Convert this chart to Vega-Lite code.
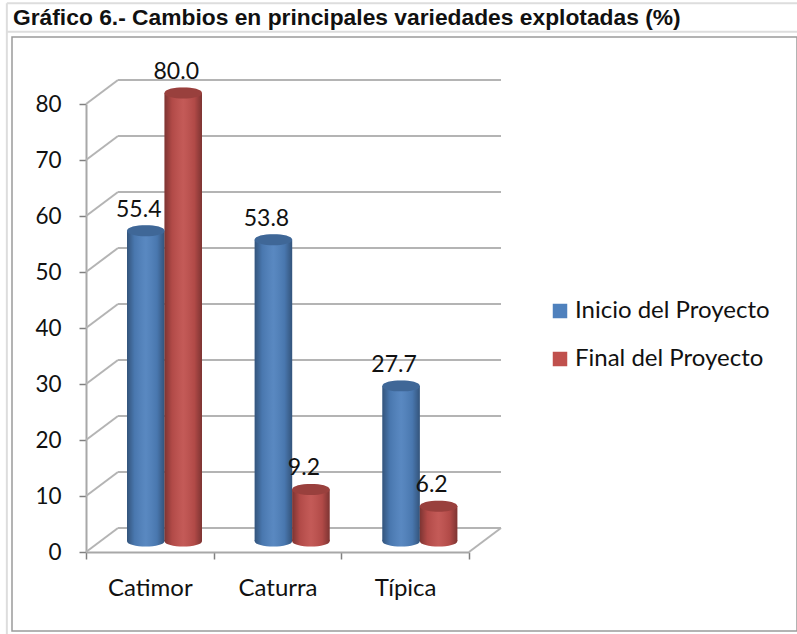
{
"$schema":"https://vega.github.io/schema/vega-lite/v6.json",
"width":785,"height":594,
"autosize":"none",
"padding":{"left":12,"top":37,"right":0,"bottom":3},
"background":"white",
"title":{"text":"Gráfico 6.- Cambios en principales variedades explotadas (%)","anchor":"start","frame":"group","font":"Liberation Sans","fontSize":22.8,"fontWeight":"bold","color":"#111111","offset":-28,"dx":1},
"config":{"view":{"stroke":"#9a9a9a","strokeWidth":1.5},"font":"Lato"},
"datasets":{
"series":[
{"variedad":"Catimor","serie":"Inicio del Proyecto","pct":55.4},
{"variedad":"Catimor","serie":"Final del Proyecto","pct":80.0},
{"variedad":"Caturra","serie":"Inicio del Proyecto","pct":53.8},
{"variedad":"Caturra","serie":"Final del Proyecto","pct":9.2},
{"variedad":"Típica","serie":"Inicio del Proyecto","pct":27.7},
{"variedad":"Típica","serie":"Final del Proyecto","pct":6.2}
],
"grid":[{"v":0},{"v":10},{"v":20},{"v":30},{"v":40},{"v":50},{"v":60},{"v":70},{"v":80}]
},
"resolve":{"scale":{"x":"independent"}},
"layer":[
{"data":{"name":"grid"},"mark":{"type":"rule","color":"#b4b4b4","strokeWidth":2,"xOffset":32,"x2Offset":32,"yOffset":-24},
 "encoding":{"x":{"datum":0,"type":"quantitative","scale":{"domain":[0,3],"range":[74,457]},"axis":null},"x2":{"datum":3},"y":{"field":"v","type":"quantitative","scale":{"domain":[0,80],"range":[515,67],"nice":false,"zero":false},"axis":{"title":null,"values":[0,10,20,30,40,50,60,70,80],"offset":-74,"grid":false,"domainColor":"#a8a8a8","domainWidth":2,"tickColor":"#808080","tickWidth":1.5,"tickSize":7,"labelPadding":18,"labelFont":"Lato","labelFontSize":22.5,"labelColor":"#111111"}}}},
{"data":{"name":"grid"},"mark":{"type":"rule","color":"#b4b4b4","strokeWidth":2,"x2Offset":32,"y2Offset":-24},
 "encoding":{"x":{"datum":0,"type":"quantitative","scale":{"domain":[0,3],"range":[74,457]},"axis":null},"x2":{"datum":0},"y":{"field":"v","type":"quantitative"},"y2":{"field":"v"}}},
{"data":{"values":[{"v":0}]},"mark":{"type":"rule","color":"#b4b4b4","strokeWidth":2,"x2Offset":32,"y2Offset":-24},
 "encoding":{"x":{"datum":3,"type":"quantitative","scale":{"domain":[0,3],"range":[74,457]},"axis":null},"x2":{"datum":3},"y":{"field":"v","type":"quantitative"},"y2":{"field":"v"}}},
{"data":{"values":[{"v":98.0},{"v":92.9}]},"mark":{"type":"rule","color":"#dddddd","strokeWidth":2},
 "encoding":{"x":{"datum":-0.62,"type":"quantitative","scale":{"domain":[0,3],"range":[74,457]},"axis":null},"x2":{"datum":5.57},"y":{"field":"v","type":"quantitative"}}},
{"data":{"values":[{"u":-0.62}]},"mark":{"type":"rule","color":"#dddddd","strokeWidth":2},
 "encoding":{"x":{"field":"u","type":"quantitative","scale":{"domain":[0,3],"range":[74,457]},"axis":null},"y":{"datum":98.0,"type":"quantitative"},"y2":{"datum":-14.8}}},
{"data":{"name":"series"},
 "encoding":{
  "x":{"field":"variedad","type":"nominal","sort":["Catimor","Caturra","Típica"],"scale":{"domain":["Catimor","Caturra","Típica"],"range":[74,457],"paddingInner":0,"paddingOuter":0},"axis":{"title":null,"orient":"bottom","offset":-79,"labelAngle":0,"domainColor":"#a8a8a8","domainWidth":2,"tickColor":"#808080","tickWidth":1.5,"tickSize":7,"tickBand":"extent","labelPadding":17,"labelFont":"Lato","labelFontSize":24,"labelColor":"#111111"}},
  "xOffset":{"field":"serie","type":"nominal","sort":["Inicio del Proyecto","Final del Proyecto"],"scale":{"domain":["Inicio del Proyecto","Final del Proyecto"],"range":[41,116],"paddingInner":0,"paddingOuter":0}},
  "y":{"field":"pct","type":"quantitative"},
  "color":{"field":"serie","type":"nominal","sort":["Inicio del Proyecto","Final del Proyecto"],"scale":{"domain":["Inicio del Proyecto","Final del Proyecto"],"range":["#4f81bd","#c0504d"]},"legend":{"title":null,"orient":"none","legendX":536,"legendY":262,"symbolType":"square","symbolSize":210,"symbolStrokeWidth":0,"labelFont":"Lato","labelFontSize":24,"labelColor":"#111111","labelLimit":260,"rowPadding":24,"labelOffset":3}}
 },
 "layer":[
  {"mark":{"type":"point","filled":true,"opacity":1,"shape":"M-1 0C-1 -0.39 1 -0.39 1 0C1 0.39 -1 0.39 -1 0Z","size":1406,"yOffset":-11},"encoding":{"y":{"datum":0,"type":"quantitative"}}},
  {"mark":{"type":"point","filled":true,"opacity":1,"shape":"M-1 0C-1 -0.39 1 -0.39 1 0C1 0.39 -1 0.39 -1 0Z","size":1406,"yOffset":-11,"fill":{"gradient":"linear","x1":0,"x2":1,"y1":0,"y2":0,"stops":[{"offset":0,"color":"rgba(0,0,0,0.35)"},{"offset":0.2,"color":"rgba(0,0,0,0.08)"},{"offset":0.5,"color":"rgba(255,255,255,0.06)"},{"offset":0.8,"color":"rgba(0,0,0,0.08)"},{"offset":1,"color":"rgba(0,0,0,0.35)"}]}},"encoding":{"y":{"datum":0,"type":"quantitative"},"color":{"value":null}}},
  {"mark":{"type":"bar","yOffset":-11,"y2Offset":-11},"encoding":{"y2":{"datum":0}}},
  {"mark":{"type":"bar","yOffset":-11,"y2Offset":-11,"fill":{"gradient":"linear","x1":0,"x2":1,"y1":0,"y2":0,"stops":[{"offset":0,"color":"rgba(0,0,0,0.35)"},{"offset":0.2,"color":"rgba(0,0,0,0.08)"},{"offset":0.5,"color":"rgba(255,255,255,0.06)"},{"offset":0.8,"color":"rgba(0,0,0,0.08)"},{"offset":1,"color":"rgba(0,0,0,0.35)"}]}},"encoding":{"y2":{"datum":0},"color":{"value":null}}},
  {"mark":{"type":"point","filled":true,"opacity":1,"shape":"M-1 0C-1 -0.39 1 -0.39 1 0C1 0.39 -1 0.39 -1 0Z","size":1406,"yOffset":-11}},
  {"mark":{"type":"point","filled":true,"opacity":0.2,"shape":"M-1 0C-1 -0.39 1 -0.39 1 0C1 0.39 -1 0.39 -1 0Z","size":1406,"yOffset":-11,"fill":"#000000"},"encoding":{"color":{"value":null}}},
  {"mark":{"type":"text","font":"Lato","fontSize":23,"dx":-7,"yOffset":-32,"baseline":"middle","fill":"#111111"},"encoding":{"text":{"field":"pct","type":"quantitative","format":".1f"},"color":{"value":"#111111"}}}
 ]
}
]
}
